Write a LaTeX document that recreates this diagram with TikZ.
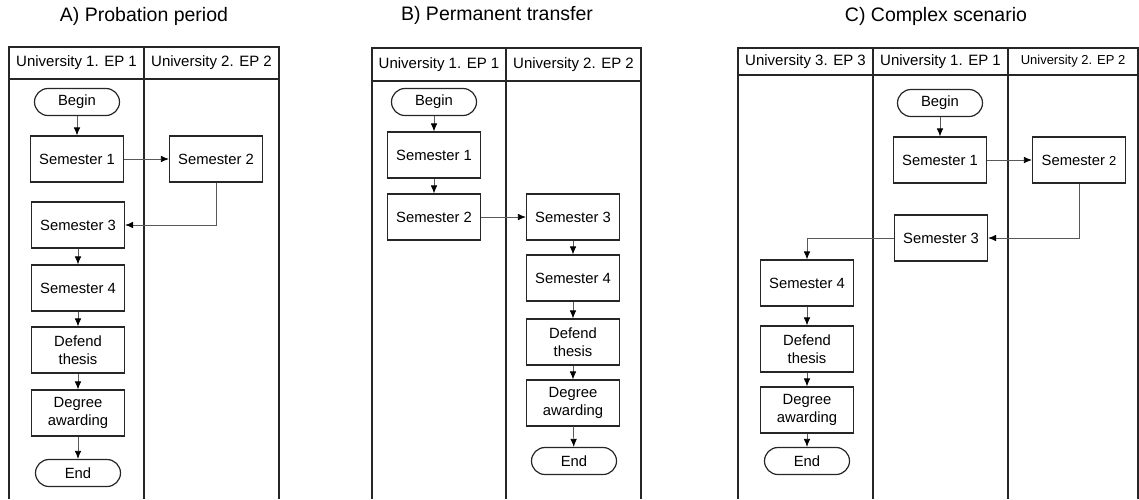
\documentclass[tikz,border=0pt]{standalone}
\usepackage{fontspec}
\setmainfont{Liberation Sans}
\usetikzlibrary{arrows.meta}
\begin{document}
\begin{tikzpicture}[x=1pt,y=-1pt,
  lane/.style={line width=1.3pt, draw=black!85},
  stepbox/.style={draw=black!85, line width=1.2pt, minimum width=93pt, minimum height=46pt,
    inner sep=0pt, align=center, font=\fontsize{14.8}{17.8}\selectfont},
  term/.style={draw=black!85, line width=1.2pt, minimum width=85pt, minimum height=27pt,
    rounded corners=13.5pt, inner sep=0pt, font=\fontsize{14.8}{17.8}\selectfont},
  head/.style={font=\fontsize{15}{18}\selectfont, inner sep=0pt},
  title/.style={font=\fontsize{19.5}{23}\selectfont, inner sep=0pt},
  flow/.style={draw=black!65, line width=0.7pt, -{Latex[length=8pt,width=6.5pt,color=black]}},
]
\useasboundingbox (0,0) rectangle (1139,499);

% ---------- A) Probation period ----------
\node[title] (ta) at (144,16) {A) Probation period};
\draw[lane] (9,499) -- (9,47) -- (279,47) -- (279,499);
\draw[lane] (9,79) -- (279,79);
\draw[lane] (144,47) -- (144,499);
\node[head] (ha1) at (76.5,63) {University 1. EP 1};
\node[head] (ha2) at (211.5,63) {University 2. EP 2};

\node[term]    (a0) at (77,102) {Begin};
\node[stepbox] (a1) at (77,159) {Semester 1};
\node[stepbox] (a2) at (216,159) {Semester 2};
\node[stepbox] (a3) at (78,225) {Semester 3};
\node[stepbox] (a4) at (78,288) {Semester 4};
\node[stepbox] (a5) at (78,350) {Defend\\thesis};
\node[stepbox] (a6) at (78,413) {Degree\\awarding};
\node[term]    (a7) at (78,473) {End};

\draw[flow] (a0) -- (a1);
\draw[flow] (a1) -- (a2);
\draw[flow] (a2.south) |- (a3.east);
\draw[flow] (a3) -- (a4);
\draw[flow] (a4) -- (a5);
\draw[flow] (a5) -- (a6);
\draw[flow] (a6) -- (a7);

% ---------- B) Permanent transfer ----------
\node[title] (tb) at (497,15) {B) Permanent transfer};
\draw[lane] (372,499) -- (372,48) -- (641,48) -- (641,499);
\draw[lane] (372,81) -- (641,81);
\draw[lane] (506,48) -- (506,499);
\node[head] (hb1) at (439,64.5) {University 1. EP 1};
\node[head] (hb2) at (573.5,64.5) {University 2. EP 2};

\node[term]    (b0) at (434,102) {Begin};
\node[stepbox] (b1) at (434,155) {Semester 1};
\node[stepbox] (b2) at (434,217) {Semester 2};
\node[stepbox] (b3) at (573,217) {Semester 3};
\node[stepbox] (b4) at (573,278) {Semester 4};
\node[stepbox] (b5) at (573,342) {Defend\\thesis};
\node[stepbox] (b6) at (573,403) {Degree\\awarding};
\node[term]    (b7) at (574,461) {End};

\draw[flow] (b0) -- (b1);
\draw[flow] (b1) -- (b2);
\draw[flow] (b2) -- (b3);
\draw[flow] (b3) -- (b4);
\draw[flow] (b4) -- (b5);
\draw[flow] (b5) -- (b6);
\draw[flow] (b6) -- (b7);

% ---------- C) Complex scenario ----------
\node[title] (tc) at (936,16) {C) Complex scenario};
\draw[lane] (738,499) -- (738,48) -- (1138,48) -- (1138,499);
\draw[lane] (738,75) -- (1138,75);
\draw[lane] (873,48) -- (873,499);
\draw[lane] (1008,48) -- (1008,499);
\node[head] (hc1) at (805.5,61.5) {University 3. EP 3};
\node[head] (hc2) at (940.5,61.5) {University 1. EP 1};
\node[head, font=\fontsize{13}{16}\selectfont] (hc3) at (1073,61.5) {University 2. EP 2};

\node[term]    (c0) at (940,103) {Begin};
\node[stepbox] (c1) at (940,160) {Semester 1};
\node[stepbox] (c2) at (1079,160) {Semester {\fontsize{13}{16}\selectfont 2}};
\node[stepbox] (c3) at (941,238) {Semester 3};
\node[stepbox] (c4) at (807,283) {Semester 4};
\node[stepbox] (c5) at (807,349) {Defend\\thesis};
\node[stepbox] (c6) at (807,410) {Degree\\awarding};
\node[term]    (c7) at (807,461) {End};

\draw[flow] (c0) -- (c1);
\draw[flow] (c1) -- (c2);
\draw[flow] (c2.south) |- (c3.east);
\draw[flow] (c3.west) -| (c4.north);
\draw[flow] (c4) -- (c5);
\draw[flow] (c5) -- (c6);
\draw[flow] (c6) -- (c7);
\end{tikzpicture}
\end{document}
